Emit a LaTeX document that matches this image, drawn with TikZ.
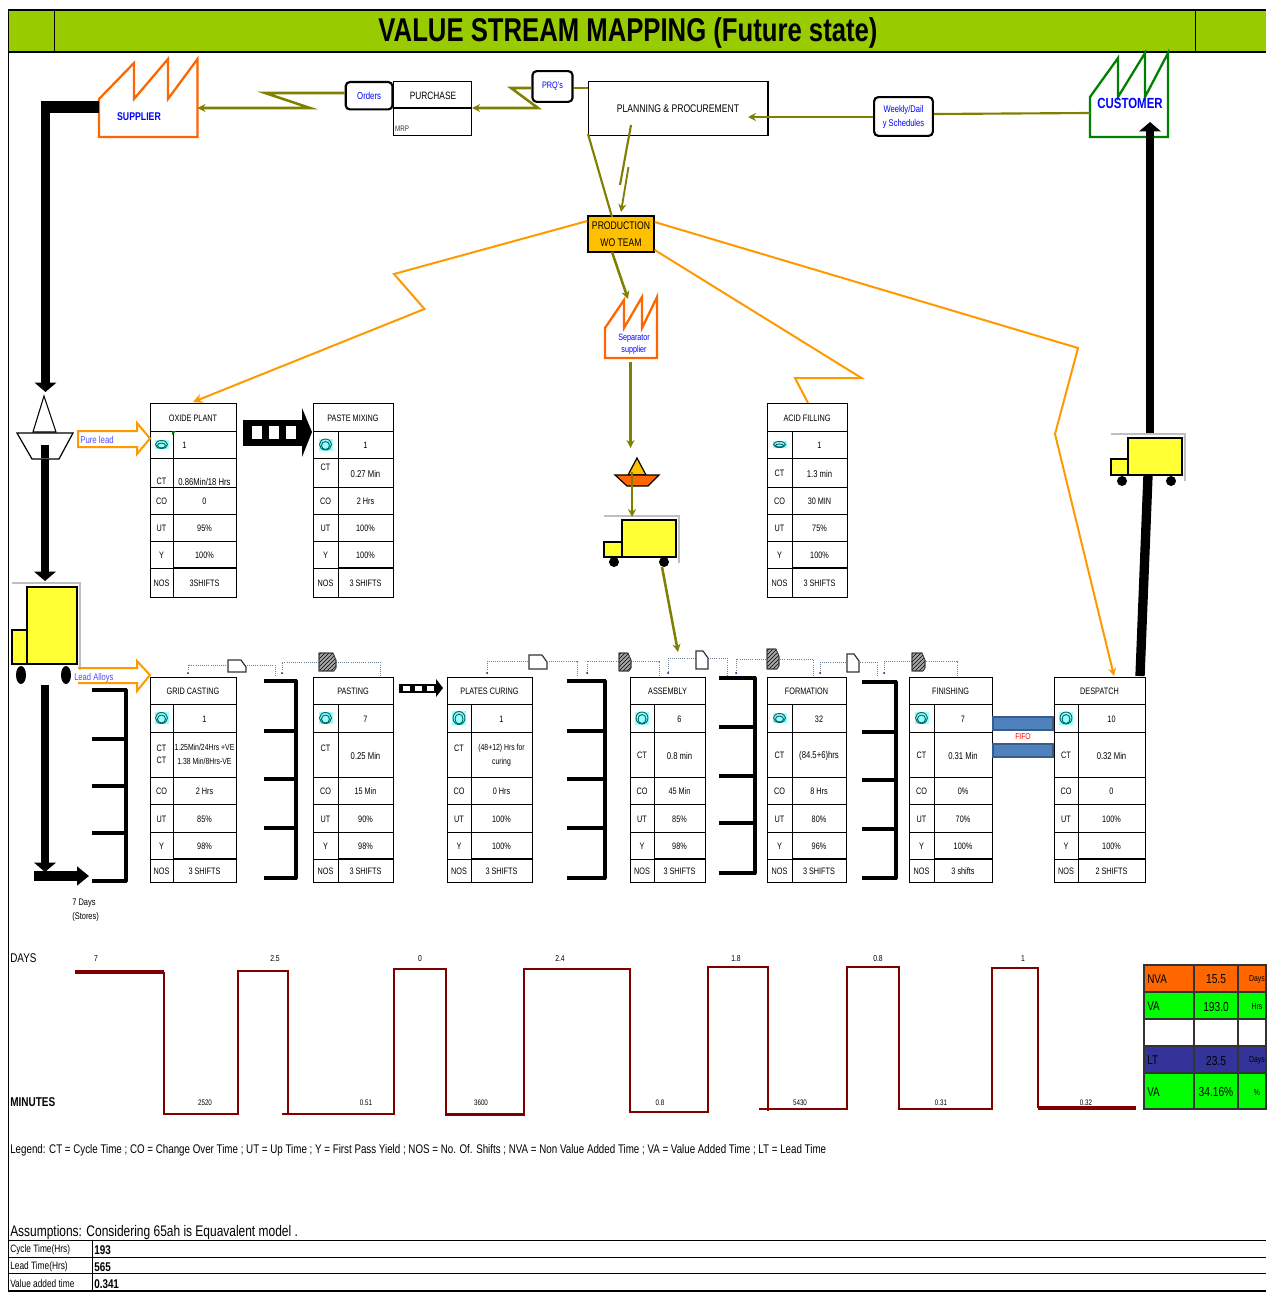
\documentclass[tikz,border=0pt]{standalone}
\usepackage{xcolor}
\usepackage{fontspec}
\setmainfont[FakeStretch=0.78]{Liberation Sans}
\usetikzlibrary{arrows.meta,patterns}
\definecolor{bandgreen}{HTML}{99CC00}
\definecolor{infoline}{HTML}{808000}
\definecolor{factorange}{HTML}{FF6600}
\definecolor{pushorange}{HTML}{FF9900}
\definecolor{teamyellow}{HTML}{FFC000}
\definecolor{truckyellow}{HTML}{FFFF33}
\definecolor{timered}{HTML}{800000}
\definecolor{fifoblue}{HTML}{4F81BD}
\definecolor{fifoedge}{HTML}{385D8A}
\definecolor{ltblue}{HTML}{333399}
\definecolor{opscyan}{HTML}{99FFFF}
\definecolor{signalgray}{HTML}{6F7F99}
\newcommand{\rowtop}{\def\ya{403}\def\yb{431}\def\yc{458}\def\yd{487}\def\ye{514}\def\yf{541}\def\yg{568}\def\yh{597}}
\newcommand{\rowlow}{\def\ya{677}\def\yb{704}\def\yc{732}\def\yd{777}\def\ye{804}\def\yf{832}\def\yg{859}\def\yh{882}}
\newcommand{\smallval}{\fontsize{6.6}{10.5}\selectfont}
\begin{document}
\begin{tikzpicture}[x=0.75pt,y=-0.75pt,
    txt/.style={inner sep=0pt, align=center, yshift=-0.75pt, font=\fontsize{7}{9}\selectfont},
    bluetxt/.style={txt, text=blue},
    cellline/.style={line width=0.7pt},
    info/.style={draw=infoline, line width=1.9pt, -{Stealth[length=6pt,width=6pt]}},
    thinfo/.style={draw=infoline, line width=1.6pt},
    order/.style={draw=pushorange, line width=1.5pt},
    factory/.style={line width=1.7pt, line join=miter, fill=white},
    roundbox/.style={draw, rounded corners=3pt, line width=1.6pt, fill=white, inner sep=0pt},
    bigpush/.style={line width=6.4pt, -{Triangle[length=7pt,width=16pt]}},
    signal/.style={draw=signalgray, densely dotted, line width=0.6pt},
    hollow/.style={draw=pushorange, line width=1.5pt},
    stock/.style={line width=2.4pt, line cap=round},
    timeline/.style={draw=timered, line width=2pt},
    sumcell/.style={draw=black!80, line width=0.8pt}]
    \useasboundingbox (0,0) rectangle (1266,1294);

    \fill[bandgreen] (8,10) rectangle (1266,52);
    \draw[line width=0.8pt] (8,10) -- (1266,10);
    \draw[line width=1.3pt] (8,52) -- (1266,52);
    \draw[line width=0.6pt] (54.5,10) -- (54.5,52);
    \draw[line width=0.6pt] (1195,10) -- (1195,52);
    \draw[line width=0.8pt] (8.5,10) -- (8.5,1292);
    \node[inner sep=0pt, font=\fontsize{24.7}{30}\selectfont\bfseries] (title) at (628,33) {VALUE STREAM MAPPING (Future state)};

    \draw[factory, draw=factorange] (99,99) -- (134,63) -- (134,99) -- (168,59) -- (168,99) -- (197.5,59) -- (197.5,137) -- (99,137) -- cycle;
    \coordinate (supplierin) at (197.5,108);
    \coordinate (supplierout) at (99,107);
    \node[bluetxt, font=\fontsize{8.4}{11}\selectfont\bfseries] (supplier) at (139,116) {SUPPLIER};

    \draw[factory, draw=factorange] (605,358) -- (605,328) -- (624,300) -- (624,328) -- (642,297) -- (642,328) -- (657,297) -- (657,358) -- cycle;
    \coordinate (sepout) at (630.5,362);
    \node[bluetxt, font=\fontsize{6.9}{9}\selectfont] (separator) at (634,343) {Separator\\supplier};

    \draw[factory, draw=green!50!black] (1090,97) -- (1118,58) -- (1118,97) -- (1145,53) -- (1145,97) -- (1168,53) -- (1168,137) -- (1090,137) -- cycle;
    \coordinate (customerout) at (1090,113);
    \node[bluetxt, font=\fontsize{11}{13}\selectfont\bfseries] (customer) at (1130,102) {CUSTOMER};

    \node[draw, line width=0.8pt, minimum width=58.5pt, minimum height=40.5pt, anchor=north west, inner sep=0pt] (purchase) at (393,81) {};
    \node[txt, font=\fontsize{8}{10}\selectfont] (purchasetxt) at (433,95) {PURCHASE};
    \node[txt, font=\fontsize{6}{8}\selectfont, text=black!80] (mrp) at (402,128) {MRP};
    \draw[line width=1.1pt] (393,108) -- (471,108);
    \node[roundbox, minimum width=35pt, minimum height=20.5pt, anchor=north east, text=blue, align=center, font=\fontsize{7.5}{9}\selectfont] (orders) at (393.5,81) {Orders};
    \node[roundbox, minimum width=30pt, minimum height=23pt, text=blue, align=center, font=\fontsize{7}{9}\selectfont] (prq) at (552.5,86.5) {PRQ's};
    \node[draw, line width=0.9pt, minimum width=134.5pt, minimum height=40.5pt, anchor=north west, inner sep=0pt] (planning) at (588,81) {};
    \node[txt, font=\fontsize{8.3}{10}\selectfont] (planningtxt) at (678,108) {PLANNING \& PROCUREMENT};
    \node[roundbox, minimum width=44pt, minimum height=29pt, text=blue, align=center, font=\fontsize{7.3}{10.5}\selectfont] (weekly) at (903.5,116.5) {Weekly/Dail\\y Schedules};
    \node[draw, line width=1pt, fill=teamyellow, minimum width=49.5pt, minimum height=27pt, inner sep=0pt, align=center, font=\fontsize{8.3}{13}\selectfont] (team) at (621,234) {PRODUCTION\\WO TEAM};

    \draw[info] (orders.west |- 0,93) -- (265,93) -- (310,108) -- (supplierin);
    \draw[thinfo] (planning.west |- 0,88) -- (prq.east |- 0,88);
    \draw[info] (prq.west |- 0,88) -- (511,88) -- (538,108) -- (purchase.east |- 0,108);
    \draw[thinfo] (customerout) -- (weekly.east |- 0,114);
    \draw[info] (weekly.west |- 0,117) -- (748,117);
    \draw[thinfo] (588,134) -- (612,217);
    \draw[thinfo] (631,125) -- (620,185);
    \draw[info, line width=1.4pt] (628.5,167) -- (621,212);
    \draw[info] (612,252) -- (628,299);
    \draw[info] (sepout) -- (630.5,448);

    \coordinate (oxidetop) at (193,402);
    \draw[order, -{Stealth[length=7pt,width=7pt]}] (team.west |- 0,221) -- (394,274) -- (424.5,309) -- (oxidetop);
    \draw[order] (team.east |- 0,250) -- (861.5,378) -- (795,378) -- (808,403);
    \coordinate (despatchtop) at (1114,676);
    \draw[order, -{Stealth[length=6pt,width=6pt]}] (team.east |- 0,222) -- (1078,348) -- (1055,434) -- (despatchtop);

    \foreach \bname/\xa/\xb/\xc/\rowset/\opsh/\ttl/\ops/\ctl/\ctd/\val/\vald/\co/\ut/\yld/\nos in {
        oxide/150/173/236/\rowtop/9/OXIDE PLANT/{1\hspace*{30pt}}/CT/8/{0.86Min/18 Hrs}/8/0/95\%/100\%/3SHIFTS,
        paste/313/338/393/\rowtop/12/PASTE MIXING/1/CT/-6/0.27 Min/0/2 Hrs/100\%/100\%/3 SHIFTS,
        acid/767/792/847/\rowtop/7/ACID FILLING/1/CT/0/1.3 min/0/30 MIN/75\%/100\%/3 SHIFTS,
        grid/150/173/236/\rowlow/12/GRID CASTING/1/{CT\\CT}/-1/{\smallval 1.25Min/24Hrs +VE\\\smallval 1.38 Min/8Hrs-VE}/-1/2 Hrs/85\%/98\%/3 SHIFTS,
        pasting/313/338/393/\rowlow/12/PASTING/7/CT/-7/0.25 Min/0/15 Min/90\%/98\%/3 SHIFTS,
        plates/447/471/532/\rowlow/14/PLATES CURING/1/CT/-7/{\smallval (48+12) Hrs for\\\smallval curing}/0/0 Hrs/100\%/100\%/3 SHIFTS,
        assembly/630/654/705/\rowlow/13/ASSEMBLY/6/CT/0/0.8 min/0/45 Min/85\%/98\%/3 SHIFTS,
        formation/767/792/846/\rowlow/10/FORMATION/32/CT/0/(84.5+6)hrs/0/8 Hrs/80\%/96\%/3 SHIFTS,
        finishing/909/934/992/\rowlow/12/FINISHING/7/CT/0/0.31 Min/0/0\%/70\%/100\%/3 shifts,
        despatch/1054/1078/1145/\rowlow/13/DESPATCH/10/CT/0/0.32 Min/0/0/100\%/100\%/2 SHIFTS}
    {
        \rowset
        \draw[cellline] (\xa,\ya) rectangle (\xc,\yh);
        \foreach \yy in {\yb,\yc,\yd,\ye,\yf,\yg}
            \draw[cellline] (\xa,\yy) -- (\xc,\yy);
        \draw[cellline] (\xb,\yb) -- (\xb,\yh);
        \draw[line width=1.3pt] (\xb,\yg) -- (\xc,\yg);
        \fill[opscyan] ({(\xa+\xb)/2-7},{(\yb+\yc)/2-\opsh/2}) rectangle ({(\xa+\xb)/2+7},{(\yb+\yc)/2+\opsh/2});
        \draw[teal!80!black, line width=0.7pt] ({(\xa+\xb)/2},{(\yb+\yc)/2}) ellipse [x radius=6, y radius=\opsh/2-0.5];
        \draw[teal!80!black, line width=0.7pt] ({(\xa+\xb)/2},{(\yb+\yc)/2+1}) ellipse [x radius=4, y radius=\opsh/2-2];
        \node[txt] (\bname-ttl) at ({(\xa+\xc)/2},{(\ya+\yb)/2}) {\ttl};
        \node[txt] (\bname-ops) at ({(\xb+\xc)/2},{(\yb+\yc)/2}) {\ops};
        \node[txt, yshift=-\ctd*0.75pt] (\bname-ctl) at ({(\xa+\xb)/2},{(\yc+\yd)/2}) {\ctl};
        \node[txt, yshift=-\vald*0.75pt, font=\fontsize{7.4}{10.5}\selectfont] (\bname-val) at ({(\xb+\xc)/2},{(\yc+\yd)/2}) {\val};
        \node[txt] (\bname-col) at ({(\xa+\xb)/2},{(\yd+\ye)/2}) {CO};
        \node[txt] (\bname-cov) at ({(\xb+\xc)/2},{(\yd+\ye)/2}) {\co};
        \node[txt] (\bname-utl) at ({(\xa+\xb)/2},{(\ye+\yf)/2}) {UT};
        \node[txt] (\bname-utv) at ({(\xb+\xc)/2},{(\ye+\yf)/2}) {\ut};
        \node[txt] (\bname-yl) at ({(\xa+\xb)/2},{(\yf+\yg)/2}) {Y};
        \node[txt] (\bname-yv) at ({(\xb+\xc)/2},{(\yf+\yg)/2}) {\yld};
        \node[txt] (\bname-nol) at ({(\xa+\xb)/2},{(\yg+\yh)/2}) {NOS};
        \node[txt] (\bname-nov) at ({(\xb+\xc)/2},{(\yg+\yh)/2}) {\nos};
    }
    \fill[green!50!black] (172,431) -- (176,431) -- (172,435) -- cycle;

    \draw[line width=8.5pt] (supplierout) -- (41,107);
    \draw[bigpush] (45.5,103) -- (45.5,392);
    \draw[bigpush] (45,445) -- (45,581);
    \draw[line width=0.8pt, fill=white] (44,396) -- (33,432) -- (56,432) -- cycle;
    \draw[line width=0.9pt, fill=white] (17,433) -- (73,433) -- (59,459) -- (32,459) -- cycle;
    \draw[line width=6.4pt] (45,445) -- (45,458);
    \draw[bigpush] (45,685) -- (45,872);
    \draw[line width=7pt, -{Triangle[length=9pt,width=14pt]}] (34,876) -- (89,876);
    \draw[bigpush] (1150,433) -- (1150,122);
    \draw[line width=7pt] (1148,475) -- (1140,676);

    \foreach \tname/\xa/\xb/\xc/\ya/\yb/\yc/\xw/\xv/\yw/\wrx/\wry/\shx in {
        trucka/12/27/77/587/630/664/21/66/675/5/9/80,
        truckb/604/622/676/520/542/557/614/664/562/5/5/679,
        truckc/1111/1128/1182/438/459/475/1122/1171/481/5/5/1185}
    {
        \draw[black!25, line width=2pt] (\xa,\ya-4) -- (\shx,\ya-4) -- (\shx,\yc+6);
        \draw[fill=truckyellow, line width=1.2pt] (\xb,\ya) rectangle (\xc,\yc);
        \draw[fill=truckyellow, line width=1.2pt] (\xa,\yb) rectangle (\xb,\yc);
        \fill (\xw,\yw) ellipse [x radius=\wrx, y radius=\wry];
        \fill (\xv,\yw) ellipse [x radius=\wrx, y radius=\wry];
    }

    \draw[fill=teamyellow, line width=0.9pt] (637,458) -- (628,475) -- (646,475) -- cycle;
    \draw[fill=factorange, line width=0.9pt] (615,475) -- (659,475) -- (648,486) -- (627,486) -- cycle;
    \coordinate (boatout) at (632,472);
    \coordinate (truckbin) at (632,517);
    \coordinate (truckbout) at (662,567);
    \coordinate (assemblyin) at (678,652);
    \draw[info] (boatout) -- (truckbin);
    \draw[info] (truckbout) -- (assemblyin);

    \draw[hollow] (78,431) -- (137,431) -- (137,423) -- (150,438.5) -- (137,454) -- (137,447) -- (78,447) -- cycle;
    \node[bluetxt, text=blue!70!white, font=\fontsize{7.5}{9}\selectfont] (purelead) at (97,439) {Pure lead};
    \draw[hollow] (78,668) -- (137,668) -- (137,661) -- (150,675) -- (137,691) -- (137,683) -- (78,683);
    \node[bluetxt, text=blue!70!white, anchor=west, font=\fontsize{7.3}{9}\selectfont] (leadalloys) at (74,677) {Lead Alloys};

    \fill (243,420) rectangle (302,446);
    \fill (302,408) -- (312,432) -- (302,457) -- cycle;
    \foreach \xs in {252,269,286}
        \fill[white] (\xs,426) rectangle (\xs+10,439);
    \fill (399,684) rectangle (436,693);
    \fill (436,679) -- (443,688) -- (436,697) -- cycle;
    \foreach \xs in {403,415,427}
        \fill[white] (\xs,686) rectangle (\xs+7,691);

    \foreach \xv/\xt/\ya/\yb/\yc/\yd/\ye in {
        126/92/690/739/786/833/881,
        296/264/681/731/779/828/878,
        605/567/681/731/779/828/878,
        755/719/678/727/776/823/873,
        896/862/682/732/780/829/878}
    {
        \draw[stock] (\xv,\ya) -- (\xv,\ye);
        \foreach \yy in {\ya,\yb,\yc,\yd}
            \draw[stock, line cap=butt] (\xt,\yy) -- (\xv+1,\yy);
        \draw[stock, line cap=butt, line width=3.2pt] (\xt,\ye) -- (\xv+1,\ye);
    }

    \foreach \xs/\xd/\yt/\xl/\xr/\yu/\yv in {
        275/188/665/228/246/660/672,
        577/487/661/529/547/655/669,
        727/668/658/696/708/651/669,
        877/820/662/847/859/654/672}
    {
        \draw[signal] (\xs,676) -- (\xs,\yt) -- (\xd,\yt) -- (\xd,671);
        \fill[black!60!blue] (\xd,673) circle [radius=1];
        \draw[fill=white, line width=0.9pt, draw=black!80] (\xl,\yu) -- (\xr-5,\yu) -- (\xr,\yu+7) -- (\xr,\yv) -- (\xl,\yv) -- cycle;
    }
    \foreach \xs/\xd/\yt/\xl/\xr/\yu/\yv in {
        380/282/662/319/336/653/671,
        659/587/661/619/631/653/671,
        813/736/659/767/779/649/669,
        957/884/661/912/925/653/671}
    {
        \draw[signal] (\xs,676) -- (\xs,\yt) -- (\xd,\yt) -- (\xd,671);
        \fill[black!60!blue] (\xd,673) circle [radius=1];
        \draw[fill=black!35] (\xl,\yu) -- (\xr-3,\yu) -- (\xr,\yu+7) -- (\xr,\yv-3) -- (\xr-2,\yv) -- (\xl,\yv) -- cycle;
        \draw[pattern=north east lines, pattern color=black, draw=black!70] (\xl,\yu) -- (\xr-3,\yu) -- (\xr,\yu+7) -- (\xr,\yv-3) -- (\xr-2,\yv) -- (\xl,\yv) -- cycle;
    }

    \draw[fill=fifoblue, draw=fifoedge, line width=2pt] (993,717) rectangle (1053,730);
    \draw[fill=fifoblue, draw=fifoedge, line width=2pt] (993,744) rectangle (1053,757);
    \node[txt, text=red, font=\fontsize{6.5}{8}\selectfont] (fifo) at (1023,736) {FIFO};

    \node[txt, font=\fontsize{7.2}{10}\selectfont, align=left, anchor=north west] (stores) at (72,898) {7 Days\\(Stores)};

    \node[txt, font=\fontsize{9.5}{10}\selectfont, anchor=west] (days) at (10,957) {DAYS};
    \node[txt, font=\fontsize{9.6}{10}\selectfont\bfseries, anchor=west] (minutes) at (10,1101) {MINUTES};
    \draw[timeline, line width=2.4pt] (75,972) -- (164,972);
    \draw[timeline] (164,972) -- (164,1114) -- (238,1114) -- (238,971) -- (288,971) -- (288,1114);
    \draw[timeline] (282,1114) -- (394,1114) -- (394,969) -- (446,969) -- (446,1114.5) -- (524,1114.5) -- (524,969) -- (630,969) -- (630,1112) -- (708,1112) -- (708,967) -- (768,967) -- (768,1111);
    \draw[timeline] (759,1109) -- (847,1109) -- (847,967) -- (899,967) -- (899,1109) -- (992,1109) -- (992,968) -- (1038,968) -- (1038,1108);
    \draw[timeline, line width=2.6pt] (1038,1108) -- (1136,1108);
    \foreach \lname/\lx/\ltxt in {t1/96/7, t2/275/2.5, t3/420/0, t4/560/2.4, t5/736/1.8, t6/878/0.8, t7/1023/1}
        \node[txt, font=\fontsize{6.5}{8}\selectfont] (\lname) at (\lx,957.5) {\ltxt};
    \foreach \lname/\lx/\ltxt in {b1/205/2520, b2/366/0.51, b3/481/3600, b4/660/0.8, b5/800/5430, b6/941/0.31, b7/1086/0.32}
        \node[txt, font=\fontsize{6}{8}\selectfont] (\lname) at (\lx,1102) {\ltxt};

    \foreach \sname/\ya/\yb/\cfill/\lab/\valu/\unit in {
        nva/965/992/factorange/NVA/15.5/Days,
        vaa/992/1019/green/VA/193.0/Hrs,
        gap/1019/1046/white/{}/{}/{},
        lta/1046/1073/ltblue/{\raisebox{-6pt}{LT}}/23.5/Days,
        vab/1073/1109/green/VA/34.16\%/\%}
    {
        \draw[sumcell, fill=\cfill] (1144,\ya) rectangle (1194,\yb);
        \draw[sumcell, fill=\cfill] (1194,\ya) rectangle (1238,\yb);
        \draw[sumcell, fill=\cfill] (1238,\ya) rectangle (1266,\yb);
        \node[txt, font=\fontsize{9.5}{10}\selectfont, anchor=west] (\sname-lab) at (1147,{(\ya+\yb)/2}) {\lab};
        \node[txt, font=\fontsize{9.8}{10}\selectfont] (\sname-val) at (1216,{(\ya+\yb)/2}) {\valu};
        \node[txt, font=\fontsize{6.6}{8}\selectfont] (\sname-unit) at (1257,{(\ya+\yb)/2}) {\unit};
    }

    \node[txt, anchor=west, font=\fontsize{9.4}{10}\selectfont] (legend) at (10,1149) {Legend: CT = Cycle Time ; CO = Change Over Time ; UT = Up Time ; Y = First Pass Yield ; NOS = No. Of. Shifts ; NVA = Non Value Added Time ; VA = Value Added Time ; LT = Lead Time};
    \node[txt, anchor=west, font=\fontsize{11.5}{12}\selectfont] (assume) at (10,1231.5) {Assumptions: Considering 65ah is Equavalent model .};
    \foreach \yy in {1240.5,1257.5,1273.5}
        \draw[line width=0.7pt] (8,\yy) -- (1266,\yy);
    \draw[line width=1.1pt] (8,1291) -- (1266,1291);
    \draw[line width=0.7pt] (92.5,1240.5) -- (92.5,1291);
    \foreach \rname/\ry/\rlab/\rval in {cyc/1249/Cycle Time(Hrs)/193, lead/1266/Lead Time(Hrs)/565, vat/1283/Value added time/0.341}
    {
        \node[txt, anchor=west, font=\fontsize{8}{9}\selectfont] (\rname-lab) at (10,\ry) {\rlab};
        \node[txt, anchor=west, font=\fontsize{9.5}{10}\selectfont\bfseries] (\rname-val) at (94,\ry) {\rval};
    }
\end{tikzpicture}
\end{document}
